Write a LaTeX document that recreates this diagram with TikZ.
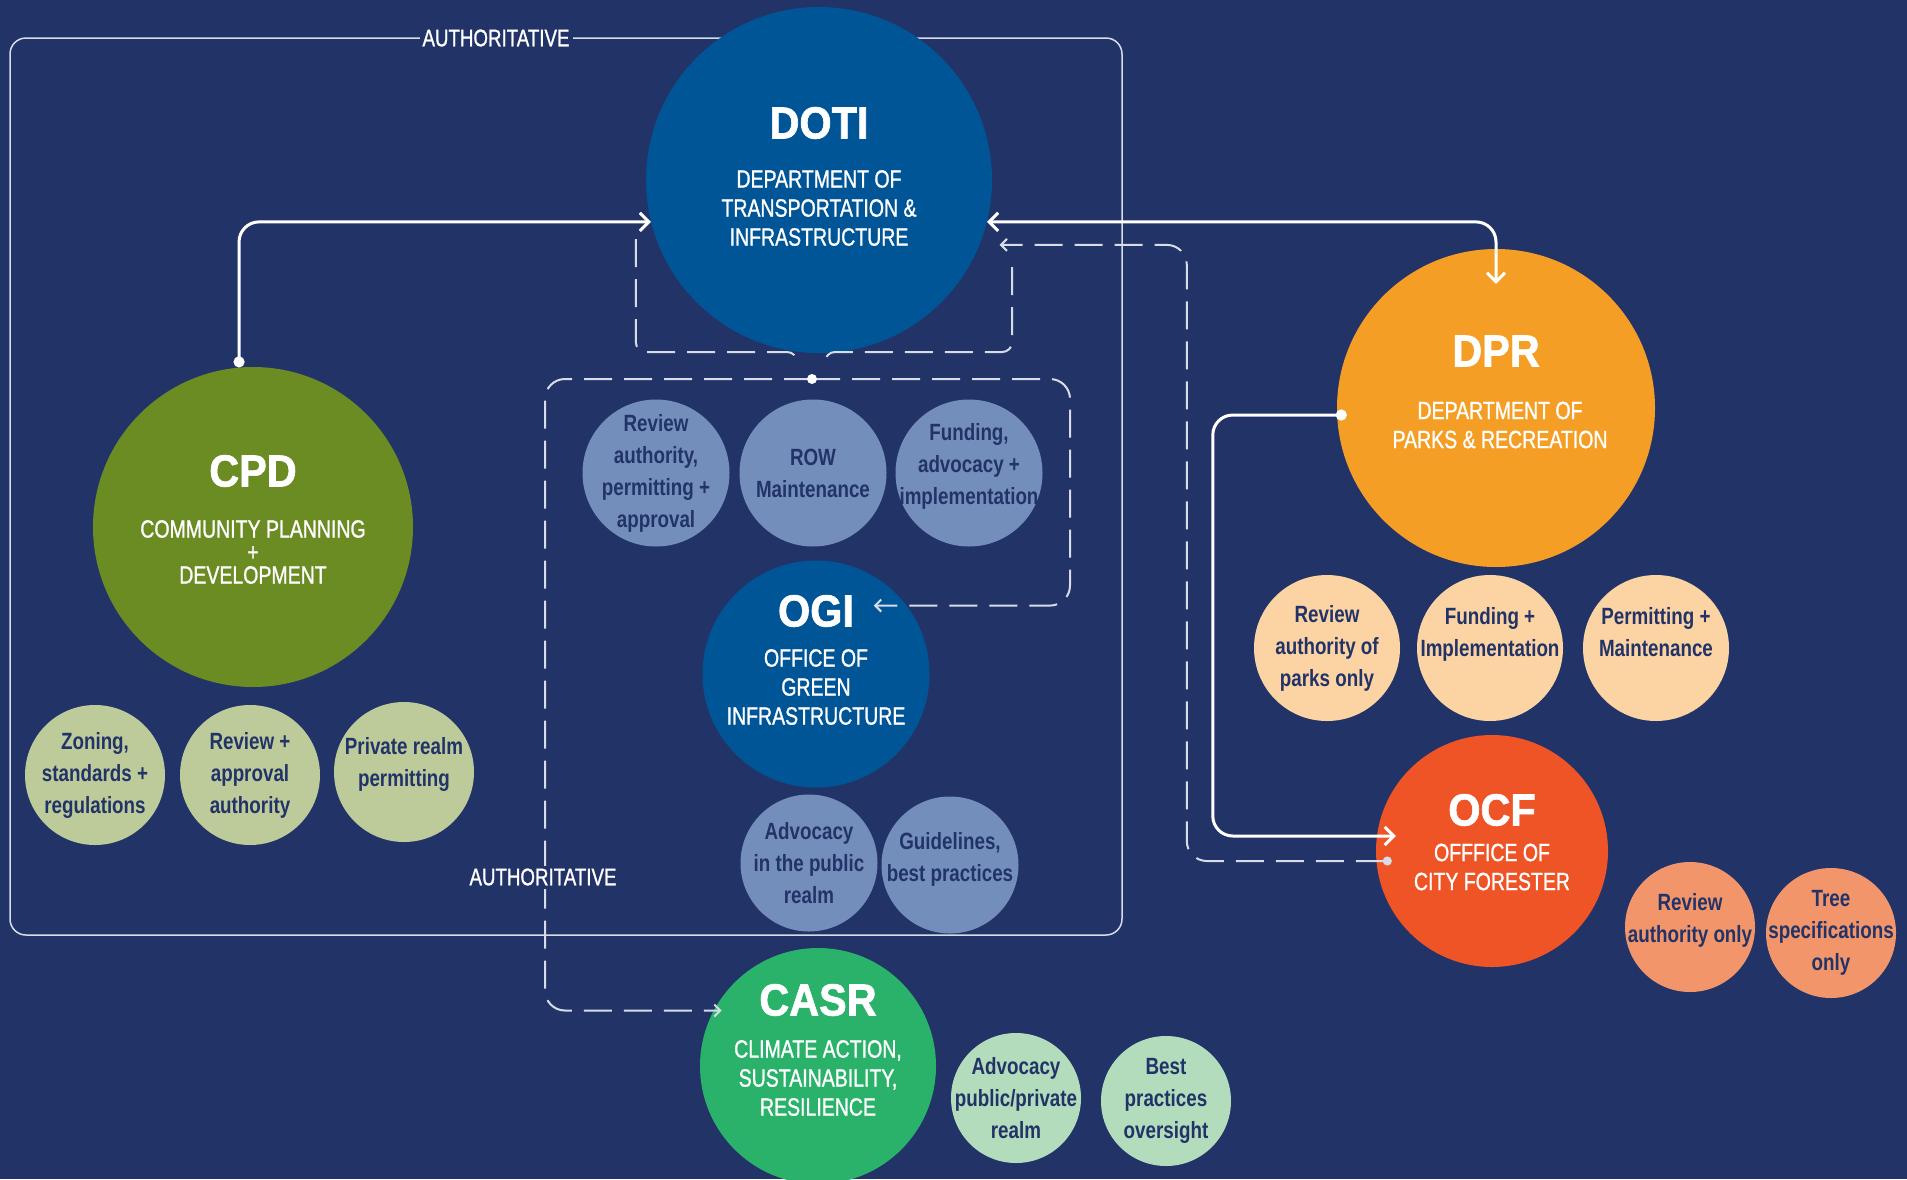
\documentclass[tikz,border=0pt]{standalone}
\usepackage{fontspec}
\setmainfont{Liberation Sans}[FakeStretch=0.8]
\newfontfamily\headfont{Liberation Sans}[FakeStretch=0.92, FakeBold=1.5]
\newfontfamily\titlefont{Liberation Sans}[FakeStretch=0.78, FakeBold=1]
\usetikzlibrary{arrows.meta}

\definecolor{navy}{RGB}{34,51,104}
\definecolor{dotiblue}{RGB}{0,85,150}
\definecolor{dotisub}{RGB}{116,142,188}
\definecolor{cpdgreen}{RGB}{107,139,35}
\definecolor{cpdsub}{RGB}{189,203,154}
\definecolor{dprorange}{RGB}{245,158,37}
\definecolor{dprsub}{RGB}{252,211,162}
\definecolor{ocfred}{RGB}{239,84,38}
\definecolor{ocfsub}{RGB}{242,149,106}
\definecolor{casrgreen}{RGB}{43,178,106}
\definecolor{casrsub}{RGB}{178,220,187}
\definecolor{dashgray}{RGB}{215,220,232}

\begin{document}
\begin{tikzpicture}[x=1pt, y=-1pt,
	agency/.style={circle, inner sep=0pt},
	duty/.style={circle, inner sep=-30pt, align=center, text=navy, font=\bfseries\fontsize{23.5}{32}\selectfont},
	head/.style={text=white, font=\headfont\bfseries\fontsize{45}{48}\selectfont},
	title/.style={text=white, align=center, font=\titlefont\fontsize{25}{29}\selectfont},
	tag/.style={fill=navy, text=white, inner sep=3pt, font=\titlefont\fontsize{24}{26}\selectfont},
	link/.style={white, line width=3pt, rounded corners=20pt},
	dashlink/.style={dashgray, line width=2pt, dash pattern=on 28pt off 12pt, rounded corners=20pt},
	bigtip/.tip={Straight Barb[length=9pt, width=18pt, line width=3pt]},
	smalltip/.tip={Straight Barb[length=6pt, width=12pt, line width=2pt]}]
		\useasboundingbox (0,0) rectangle (1907,1179);
		\clip (0,0) rectangle (1907,1179);
		\fill[navy] (0,0) rectangle (1907,1179);
		
		% authoritative frame
		\draw[dashgray, line width=1.5pt, rounded corners=16pt] (10,38) rectangle (1122,935);
		
		% agencies
		\node[agency, fill=dotiblue, minimum size=346pt] (doti) at (819,180) {};
		\node[head] (dotihead) at ([yshift=57pt]doti.center) {DOTI};
		\node[title] (dotiname) at ([yshift=-28pt]doti.center) {DEPARTMENT OF\\TRANSPORTATION \&\\INFRASTRUCTURE};
		
		\node[agency, fill=cpdgreen, minimum size=320pt] (cpd) at (253,527) {};
		\node[head] (cpdhead) at ([yshift=56pt]cpd.center) {CPD};
		\node[title, font=\titlefont\fontsize{25}{23}\selectfont] (cpdname) at ([yshift=-25pt]cpd.center) {COMMUNITY PLANNING\\+\\DEVELOPMENT};
		
		\node[agency, fill=dprorange, minimum size=318pt] (dpr) at (1496,408) {};
		\node[head] (dprhead) at ([yshift=57pt]dpr.center) {DPR};
		\node[title] (dprname) at ([xshift=4pt,yshift=-17pt]dpr.center) {DEPARTMENT OF\\PARKS \& RECREATION};
		
		\node[agency, fill=dotiblue, minimum size=227pt] (ogi) at (816,674) {};
		\node[head] (ogihead) at ([yshift=63pt]ogi.center) {OGI};
		\node[title] (oginame) at ([yshift=-13pt]ogi.center) {OFFICE OF\\GREEN\\INFRASTRUCTURE};
		
		\node[agency, fill=ocfred, minimum size=232pt] (ocf) at (1492,851) {};
		\node[head] (ocfhead) at ([yshift=41pt]ocf.center) {OCF};
		\node[title] (ocfname) at ([yshift=-16pt]ocf.center) {OFFFICE OF\\CITY FORESTER};
		
		\node[agency, fill=casrgreen, minimum size=236pt] (casr) at (818,1066) {};
		\node[head] (casrhead) at ([yshift=66pt]casr.center) {CASR};
		\node[title] (casrname) at ([yshift=-12pt]casr.center) {CLIMATE ACTION,\\SUSTAINABILITY,\\RESILIENCE};
		
		% roles
		\node[duty, fill=dotisub, minimum size=147pt] (doti1) at (656,473) {Review\\authority,\\permitting +\\approval};
		\node[duty, fill=dotisub, minimum size=147pt] (doti2) at (813,473) {ROW\\Maintenance};
		\node[duty, fill=dotisub, minimum size=147pt, text depth=18pt] (doti3) at (969,473) {Funding,\\advocacy +\\implementation};
		
		\node[duty, fill=dotisub, minimum size=137pt] (ogi1) at (809,863) {Advocacy\\in the public\\realm};
		\node[duty, fill=dotisub, minimum size=137pt, text depth=16pt] (ogi2) at (950,865) {Guidelines,\\best practices};
		
		\node[duty, fill=cpdsub, minimum size=140pt] (cpd1) at (95,775) {Zoning,\\standards +\\regulations};
		\node[duty, fill=cpdsub, minimum size=140pt] (cpd2) at (250,775) {Review +\\approval\\authority};
		\node[duty, fill=cpdsub, minimum size=140pt, text depth=20pt] (cpd3) at (404,772) {Private realm\\permitting};
		
		\node[duty, fill=dprsub, minimum size=146pt] (dpr1) at (1327,648) {Review\\authority of\\parks only};
		\node[duty, fill=dprsub, minimum size=146pt, text depth=32pt] (dpr2) at (1490,648) {Funding +\\Implementation};
		\node[duty, fill=dprsub, minimum size=146pt, text depth=32pt] (dpr3) at (1656,648) {Permitting +\\Maintenance};
		
		\node[duty, fill=ocfsub, minimum size=130pt, text depth=18pt] (ocf1) at (1690,927) {Review\\authority only};
		\node[duty, fill=ocfsub, minimum size=130pt] (ocf2) at (1831,933) {Tree\\specifications\\only};
		
		\node[duty, fill=casrsub, minimum size=130pt] (casr1) at (1016,1098) {Advocacy\\public/private\\realm};
		\node[duty, fill=casrsub, minimum size=130pt] (casr2) at (1166,1101) {Best\\practices\\oversight};
		
		% solid links
		\draw[link, {Circle[length=11pt]}-{bigtip}] (cpd.95) |- (doti.194);
		\draw[link, {bigtip}-{bigtip}] (doti.346) -| ([yshift=-35pt]dpr.north);
		\draw[link, {Circle[length=11pt]}-{bigtip}] ([xshift=10pt,yshift=-7pt]dpr.west) -- ++(-134,0) |- ([xshift=20pt,yshift=15pt]ocf.west);
		
		% dashed links
		\coordinate (hub) at (812,379);
		\draw[dashlink, rounded corners=10pt] ([xshift=-10pt,yshift=-59pt]doti.west) |- ([xshift=-15pt,yshift=27pt]hub) -- ([xshift=-15pt,yshift=15pt]hub);
		\draw[dashlink, rounded corners=10pt] ([xshift=20pt,yshift=-87pt]doti.east) |- ([xshift=13pt,yshift=27pt]hub) -- ([xshift=13pt,yshift=15pt]hub);
		\draw[dashlink, -{smalltip}] (hub) -- ++(-267,0) |- ([xshift=8pt]casr.152);
		\draw[dashlink, -{smalltip}] (hub) -- ++(258,0) |- ([xshift=-33pt]ogi.37);
		\draw[dashlink, {Circle[length=9pt]}-{smalltip}] ([xshift=16pt,yshift=-10pt]ocf.west) -- ++(-205,0) |- ([xshift=20pt]doti.338);
		\fill[white] (hub) circle (5pt);
		
		\node[tag] (authtop) at (496,38) {AUTHORITATIVE};
		\node[tag] (authmid) at (543,877) {AUTHORITATIVE};
\end{tikzpicture}
\end{document}
